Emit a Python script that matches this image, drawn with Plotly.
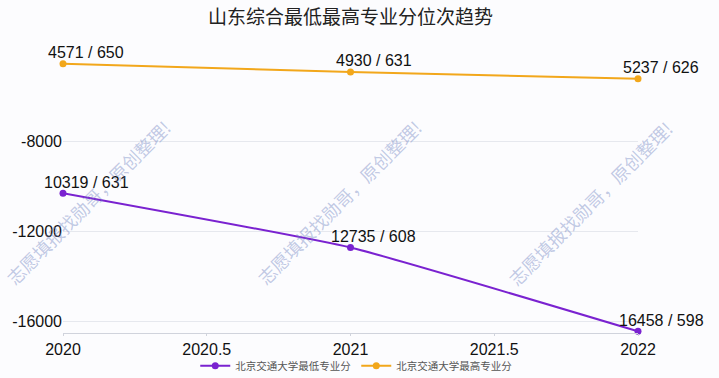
import plotly.graph_objects as go

years = [2020, 2021, 2022]
min_rank = [10319, 12735, 16458]
min_score = [631, 608, 598]
max_rank = [4571, 4930, 5237]
max_score = [650, 631, 626]
min_name = "北京交通大学最低专业分"
max_name = "北京交通大学最高专业分"
title = "山东综合最低最高专业分位次趋势"
watermark = "志愿填报找勋哥，原创整理!"
x_ticks = [2020, 2020.5, 2021, 2021.5, 2022]
x_ticklabels = ["2020", "2020.5", "2021", "2021.5", "2022"]
y_ticks = [-16000, -12000, -8000]
y_ticklabels = ["-16000", "-12000", "-8000"]

purple = "#7A22D0"
orange = "#F2A71B"
font_cjk = "Noto Sans CJK SC"
font_num = "Liberation Sans, Arial, sans-serif"

fig = go.Figure()
series = [
    (min_name, min_rank, min_score, purple),
    (max_name, max_rank, max_score, orange),
]
annotations = []
for name, ranks, scores, color in series:
    ys = [-r for r in ranks]
    fig.add_trace(go.Scatter(
        x=years, y=ys, name=name, mode="lines+markers",
        line=dict(color=color, width=2, shape="spline", smoothing=0.4),
        marker=dict(color=color, size=7),
        cliponaxis=False,
    ))
    for x, y, r, s in zip(years, ys, ranks, scores):
        annotations.append(dict(
            x=x, y=y, xref="x", yref="y", text=f"{r} / {s}", showarrow=False,
            xanchor="center", yanchor="middle", xshift=23, yshift=11,
            font=dict(family=font_num, size=16, color="#111"),
        ))

W, H = 719, 378
L, R, T, B = 63, 81, 56, 45
pw, ph = W - L - R, H - T - B

def px(x, y):
    return (x - L) / pw, (H - B - y) / ph

for cx, cy in ((88, 202), (339, 202), (590, 203)):
    ax, ay = px(cx, cy)
    annotations.append(dict(
        x=ax, y=ay, xref="paper", yref="paper", text=watermark,
        xanchor="center", yanchor="middle",
        showarrow=False, textangle=-45,
        font=dict(family=font_cjk, size=18, color="rgba(110,130,190,0.42)"),
    ))

fig.update_layout(
    width=W, height=H,
    margin=dict(l=L, r=R, t=T, b=B, autoexpand=False),
    paper_bgcolor="#fcfcfe", plot_bgcolor="#fcfcfe",
    title=dict(text=title, x=0.5, xref="paper", xanchor="center", y=0.955, yanchor="middle",
               font=dict(family=font_cjk, size=19, color="#222")),
    xaxis=dict(range=[2020, 2022], tickvals=x_ticks, ticktext=x_ticklabels, showgrid=False,
               showline=True, linecolor="#d0d3dc", linewidth=1,
               ticks="outside", ticklen=2, tickcolor="#d0d3dc", automargin=False,
               tickfont=dict(family=font_num, size=16, color="#111"), zeroline=False),
    yaxis=dict(range=[-16533, -4222], tickvals=y_ticks, ticktext=y_ticklabels,
               showgrid=True, gridcolor="#e6e8ee", automargin=False,
               zeroline=False, showline=False, ticklen=0, ticks="",
               tickfont=dict(family=font_num, size=16, color="#111")),
    legend=dict(orientation="h", x=0.51, xanchor="center", y=-0.066, yanchor="top",
                font=dict(family=font_cjk, size=10.5, color="#555"),
                bgcolor="rgba(0,0,0,0)", itemwidth=30),
    showlegend=True,
    annotations=annotations,
)

fig.write_html("out.html", config={"displayModeBar": False},
               post_script="document.body.style.margin='0';document.body.style.overflow='hidden';")
